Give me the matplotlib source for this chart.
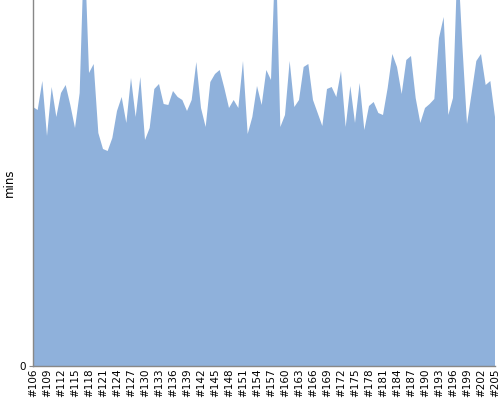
import matplotlib
matplotlib.use("Agg")
import matplotlib.pyplot as plt

builds = list(range(106, 206))
mins = [259, 256, 285, 230, 279, 249, 273, 281, 261, 238,
        273, 426, 293, 302, 233, 217, 215, 228, 255, 269,
        243, 288, 249, 289, 226, 238, 277, 282, 262, 261,
        275, 269, 266, 255, 266, 304, 258, 239, 284, 292,
        296, 278, 258, 266, 258, 305, 232, 249, 280, 261,
        296, 286, 421, 239, 251, 305, 259, 266, 299, 302,
        266, 253, 240, 277, 279, 269, 295, 239, 280, 243,
        283, 236, 260, 264, 253, 251, 278, 312, 299, 272,
        306, 310, 268, 243, 258, 262, 267, 328, 349, 251,
        268, 411, 321, 242, 273, 305, 312, 281, 285, 249]
tick_labels = ["#%d" % b for b in builds]

fig = plt.figure(figsize=(5, 4), dpi=100)
ax = fig.add_axes([33/500, 34/400, 462/500, 366/400])
x = list(range(len(mins)))
ax.fill_between(x, mins, 0, color="#8FB1DB", linewidth=0)
ax.set_xlim(0, len(mins) - 1)
ax.set_ylim(0, 366)
ax.set_yticks([0])
ax.set_yticklabels(["0"], fontsize=7.5)
ax.set_xticks(x[::3])
ax.set_xticklabels(tick_labels[::3], rotation=90, fontsize=7.5)
ax.tick_params(axis="x", length=0, pad=2)
ax.tick_params(axis="y", length=3, color="#888888", pad=2)
ax.set_ylabel("mins", fontsize=8.5)
ax.yaxis.set_label_coords(-17/462, 0.5)
for s in ["top", "right"]:
    ax.spines[s].set_visible(False)
for s in ["left", "bottom"]:
    ax.spines[s].set_color("#888888")
    ax.spines[s].set_linewidth(1)
fig.savefig("out.png", dpi=100)
